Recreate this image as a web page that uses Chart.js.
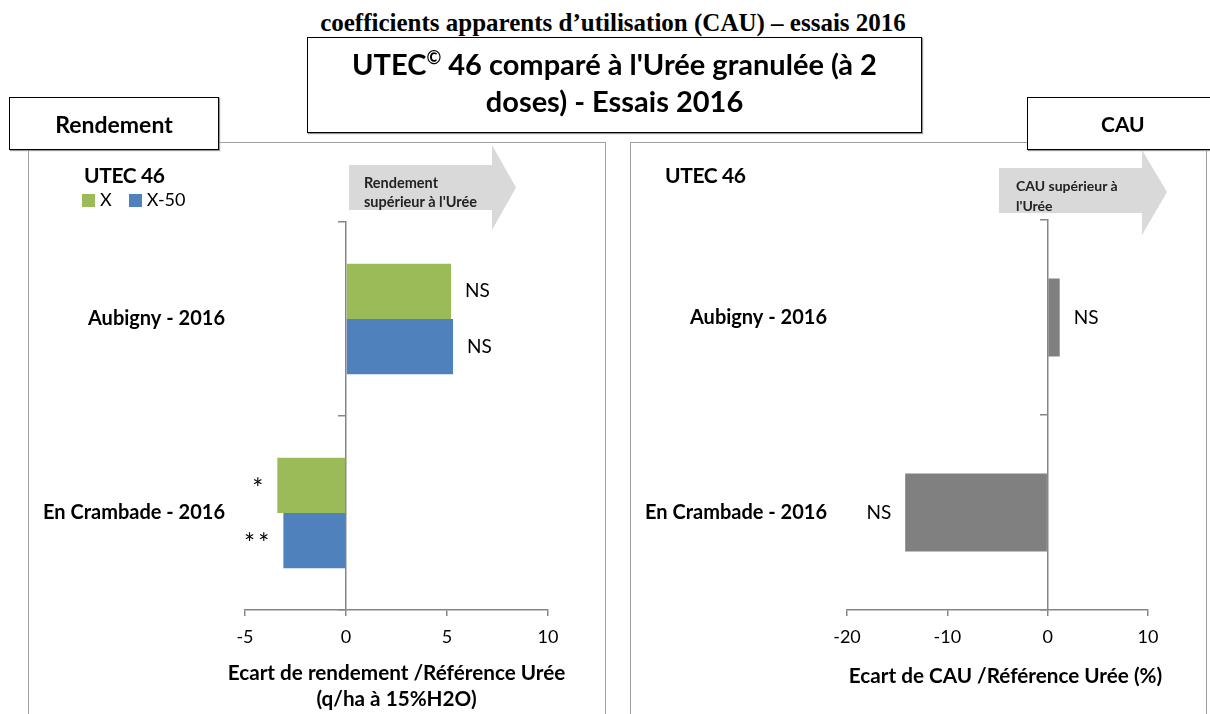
<!DOCTYPE html>
<html>
<head>
<meta charset="utf-8">
<script src="https://cdn.jsdelivr.net/npm/chart.js@4"></script>
<style>
  body { margin: 0; width: 1210px; height: 714px; position: relative; overflow: hidden; background: #fff; font-family: Lato, sans-serif; color: #000; }
  .abs { position: absolute; }
  .frame { position: absolute; border: 1.5px solid #a0a0a0; box-sizing: border-box; }
  .tag { position: absolute; background: #fff; border: 1.5px solid #000; box-sizing: border-box; display: flex; align-items: center; justify-content: center; font-weight: bold; box-shadow: 1px 1px 1px #999; }
  .sw { display: inline-block; width: 13px; height: 13px; margin-right: 5px; vertical-align: -1px; }
</style>
</head>
<body>

<div class="abs" style="left:0;width:1226px;top:9px;text-align:center;font-family:'Liberation Serif',serif;font-weight:bold;font-size:25px;">coefficients apparents d’utilisation (CAU) – essais 2016</div>

<div class="frame" style="left:28px;top:142px;width:578px;height:600px;"></div>
<div class="frame" style="left:630px;top:142px;width:577px;height:600px;"></div>

<canvas id="left" class="abs" width="578" height="572" style="left:28px;top:142px;"></canvas>
<canvas id="right" class="abs" width="577" height="572" style="left:630px;top:142px;"></canvas>

<svg class="abs" style="left:0;top:0;" width="1210" height="300">
  <polygon points="349,165 492,165 492,145 516,187.5 492,230 492,210 349,210" fill="#d9d9d9"/>
  <polygon points="999,168 1142,168 1142,150 1167,192 1142,235 1142,213 999,213" fill="#d9d9d9"/>
</svg>
<div class="abs" style="left:364px;top:173px;font-size:14.5px;font-weight:bold;line-height:19px;color:#222;">Rendement<br>supérieur à l'Urée</div>
<div class="abs" style="left:1016px;top:176px;font-size:14px;font-weight:bold;line-height:20px;color:#222;">CAU supérieur à<br>l'Urée</div>

<div class="abs" style="left:84px;top:162px;font-size:21px;font-weight:bold;letter-spacing:-0.4px;">UTEC 46</div>
<div class="abs" id="legend" style="left:82px;top:188px;font-size:18px;"></div>
<div class="abs" style="left:665px;top:162px;font-size:21px;font-weight:bold;letter-spacing:-0.4px;">UTEC 46</div>

<div class="tag" style="left:307px;top:37px;width:615px;height:96px;font-size:29px;line-height:37px;text-align:center;display:block;padding-top:7px;">UTEC<sup style="font-size:18px;line-height:0;vertical-align:11px;">©</sup> 46 comparé à l'Urée granulée (à 2<br>doses) - Essais 2016</div>
<div class="tag" style="left:9px;top:97px;width:210px;height:53px;font-size:23px;">Rendement</div>
<div class="tag" style="left:1027px;top:97px;width:200px;height:53px;font-size:21px;justify-content:flex-start;padding-left:73px;">CAU</div>

<script>
const sites = ['Aubigny - 2016', 'En Crambade - 2016'];
const seriesNames = ['X', 'X-50'];
const seriesColors = ['#9BBB59', '#4F81BD'];
const rendementX = [5.2, -3.4];
const rendementX50 = [5.3, -3.1];
const signifX = ['NS', '*'];
const signifX50 = ['NS', '**'];
const rendementTicks = [-5, 0, 5, 10];
const cau = [1.2, -14.2];
const signifCau = ['NS', 'NS'];
const cauTicks = [-20, -10, 0, 10];

document.getElementById('legend').innerHTML = seriesNames.map((n, i) =>
  `<span style="margin-right:${i ? 0 : 17}px"><span class="sw" style="background:${seriesColors[i]}"></span>${n}</span>`).join('');

// category names, significance marks and x axis title
const labelPlugin = {
  id: 'barLabels',
  afterDatasetsDraw(chart, args, opts) {
    const ctx = chart.ctx;
    const yScale = chart.scales.y;
    const xScale = chart.scales.x;
    ctx.save();
    ctx.fillStyle = '#000';
    ctx.textBaseline = 'middle';
    ctx.textAlign = 'right';
    ctx.font = 'bold 20px Lato';
    chart.data.labels.forEach((l, i) => {
      ctx.fillText(l, chart.chartArea.left - 20, yScale.getPixelForValue(i));
    });
    chart.data.datasets.forEach((ds, di) => {
      chart.getDatasetMeta(di).data.forEach((bar, i) => {
        const pos = ds.data[i] >= 0;
        const star = ds.marks[i].includes('*');
        ctx.font = star ? '26px Lato' : '19px Lato';
        ctx.textAlign = pos ? 'left' : 'right';
        ctx.fillText(star ? ds.marks[i].split('').join('\u2009') : ds.marks[i], bar.x + (pos ? 14 : -14), bar.y + (star ? 4 : 0));
      });
    });
    ctx.font = 'bold 20.7px Lato';
    ctx.textAlign = 'center';
    opts.title.forEach((t, i) => {
      ctx.fillText(t, (xScale.left + xScale.right) / 2 + opts.shift, xScale.top + opts.titleY + i * 26);
    });
    ctx.restore();
  }
};

function makeOptions(ticks, title, titleY, shift, padRight, padTop) {
  return {
    indexAxis: 'y',
    responsive: false,
    animation: false,
    layout: { padding: { left: 217, right: padRight, top: padTop, bottom: 2 } },
    plugins: { legend: { display: false }, tooltip: { enabled: false }, barLabels: { title, titleY, shift } },
    scales: {
      x: {
        min: ticks[0],
        max: ticks[ticks.length - 1],
        ticks: { stepSize: ticks[1] - ticks[0], color: '#000', padding: 10, font: { family: 'Lato', size: 18 } },
        grid: { drawOnChartArea: false, tickLength: 6, color: '#868686', lineWidth: 1.5 },
        border: { color: '#868686', width: 1.5 },
        afterFit: s => { s.height = 102; }
      },
      y: {
        position: { x: 0 },
        ticks: { display: false },
        grid: { drawOnChartArea: false, tickLength: 7, color: '#868686', lineWidth: 1.5 },
        border: { color: '#868686', width: 1.5 },
        afterFit: s => { s.width = 0; }
      }
    }
  };
}

new Chart(document.getElementById('left'), {
  type: 'bar',
  data: {
    labels: sites,
    datasets: [
      { label: seriesNames[0], data: rendementX, marks: signifX, backgroundColor: seriesColors[0], categoryPercentage: 0.57, barPercentage: 1 },
      { label: seriesNames[1], data: rendementX50, marks: signifX50, backgroundColor: seriesColors[1], categoryPercentage: 0.57, barPercentage: 1 }
    ]
  },
  options: makeOptions(rendementTicks, ['Ecart de rendement /Référence Urée', '(q/ha à 15%H2O)'], 63, 0, 58, 80),
  plugins: [labelPlugin]
});

new Chart(document.getElementById('right'), {
  type: 'bar',
  data: {
    labels: sites,
    datasets: [
      { label: 'CAU', data: cau, marks: signifCau, backgroundColor: '#808080', categoryPercentage: 0.4, barPercentage: 1 }
    ]
  },
  options: makeOptions(cauTicks, ['Ecart de CAU /Référence Urée (%)'], 66, 8, 59, 78),
  plugins: [labelPlugin]
});
</script>
</body>
</html>
